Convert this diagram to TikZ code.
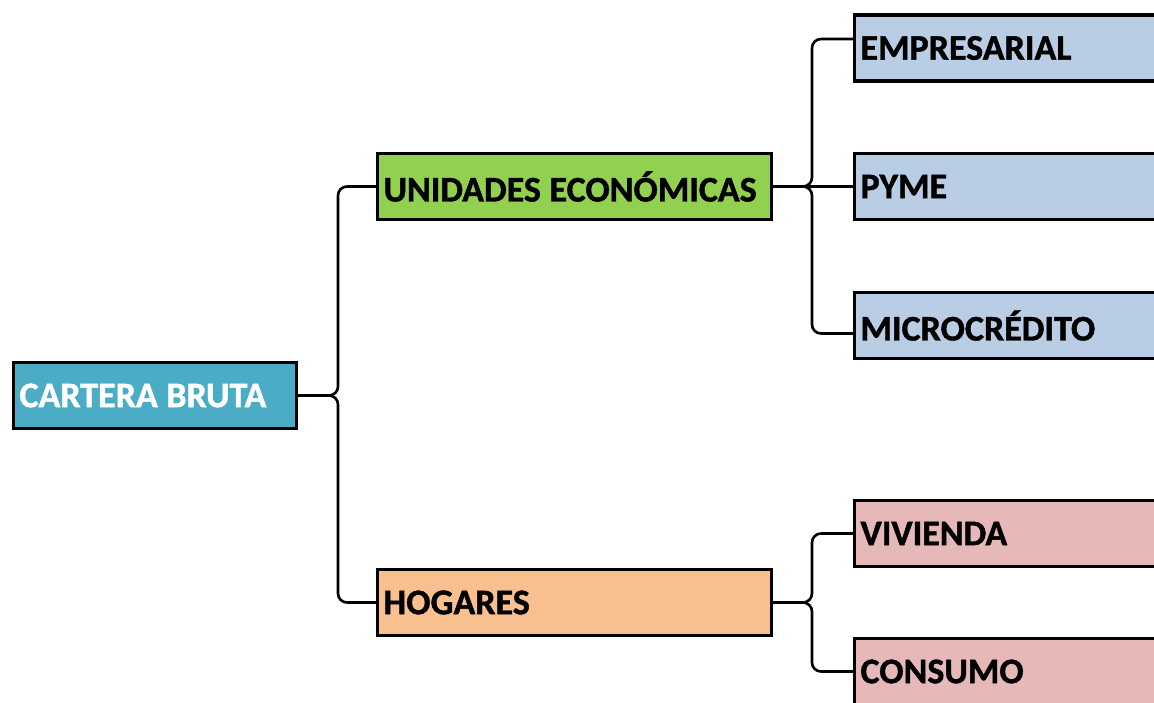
\documentclass[tikz,border=0pt]{standalone}
\usepackage{fontspec}
\setmainfont{Carlito}[BoldFeatures={FakeBold=1.2}]
\usepackage{xcolor}
\usepackage{tikz}
\usetikzlibrary{positioning, calc}
\definecolor{carteracolor}{HTML}{4BACC6}
\definecolor{unidadescolor}{HTML}{92D050}
\definecolor{hogarescolor}{HTML}{F9C08F}
\definecolor{empresacolor}{HTML}{B9CDE5}
\definecolor{hogarsubcolor}{HTML}{E6B9B8}
\newcommand{\cajafuente}{\fontsize{36}{40}\selectfont\bfseries}
\newcommand{\cajatexto}[1]{\spaceskip=0.24em\relax #1}

\begin{document}
\begin{tikzpicture}[x=1pt, y=-1pt,
    caja/.style={rectangle, draw=black, line width=3.4pt, minimum height=66pt, inner xsep=6pt, align=left, font=\cajafuente},
    llave/.style={line width=2.6pt, rounded corners=9pt}]
    \useasboundingbox (0,0) rectangle (1154,703);

    % Cartera total
    \node[caja, fill=carteracolor, text=white, text width=271pt] (cartera) at (155,395.5) {\cajatexto{CARTERA BRUTA}};

    % Segmentos
    \node[caja, fill=unidadescolor, text width=382pt] (unidades) at (574.5,186.5) {\cajatexto{UNIDADES ECONÓMICAS}};
    \node[caja, fill=hogarescolor, text width=382pt] (hogares) at (574.5,602.5) {HOGARES};

    % Tipos de crédito
    \node[caja, fill=empresacolor, text width=334pt] (empresarial) at (1027.5,48) {EMPRESARIAL};
    \node[caja, fill=empresacolor, text width=334pt] (pyme) at (1027.5,186.5) {PYME};
    \node[caja, fill=empresacolor, text width=334pt] (microcredito) at (1027.5,325.5) {MICROCRÉDITO};
    \node[caja, fill=hogarsubcolor, text width=334pt] (vivienda) at (1027.5,533.5) {VIVIENDA};
    \node[caja, fill=hogarsubcolor, text width=334pt] (consumo) at (1027.5,671.5) {CONSUMO};

    % Llaves
    \coordinate (llaveA) at (338,395.5);
    \coordinate (llaveB) at (812,186.5);
    \coordinate (llaveC) at (812,602.5);

    \draw[llave] (cartera.east) -- (llaveA) |- (unidades.west);
    \draw[llave] (cartera.east) -- (llaveA) |- (hogares.west);

    \draw[llave] (unidades.east) -- (pyme.west);
    \draw[llave] (unidades.east) -- (llaveB) |- ($(empresarial.west)+(0,-9)$);
    \draw[llave] (unidades.east) -- (llaveB) |- ($(microcredito.west)+(0,8)$);

    \draw[llave] (hogares.east) -- (llaveC) |- (vivienda.west);
    \draw[llave] (hogares.east) -- (llaveC) |- (consumo.west);
\end{tikzpicture}
\end{document}
